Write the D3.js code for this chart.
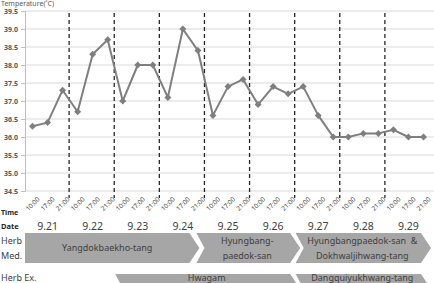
<!DOCTYPE html>
<html>
<head>
<meta charset="utf-8">
<script src="https://cdn.jsdelivr.net/npm/d3@7"></script>
<style>
  body { margin: 0; background: #fff; }
  svg { display: block; font-family: "Noto Sans", "Open Sans", sans-serif; }
</style>
</head>
<body>
<div id="chart"></div>
<script>
// chart data
const dates = ["9.21", "9.22", "9.23", "9.24", "9.25", "9.26", "9.27", "9.28", "9.29"];
const times = ["10:00", "17:00", "21:00"];
const temps = [
  36.3, 36.4, 37.3,
  36.7, 38.3, 38.7,
  37.0, 38.0, 38.0,
  37.1, 39.0, 38.4,
  36.6, 37.4, 37.6,
  36.9, 37.4, 37.2,
  37.4, 36.6, 36.0,
  36.0, 36.1, 36.1,
  36.2, 36.0, 36.0
];
const yTicks = [34.5, 35.0, 35.5, 36.0, 36.5, 37.0, 37.5, 38.0, 38.5, 39.0, 39.5];

// treatment periods, in measurement slots
const herbMed = [
  { label: ["Yangdokbaekho-tang"], start: 0, end: 11.6 },
  { label: ["Hyungbang-", "paedok-san"], start: 11.4, end: 18.3 },
  { label: ["Hyungbangpaedok-san \u00a0&", "Dokhwaljihwang-tang"], start: 18, end: 27 }
];
const herbEx = [
  { label: ["Hwagam"], start: 6, end: 18.3 },
  { label: ["Dangquiyukhwang-tang"], start: 18, end: 27 }
];

const width = 434, height = 283;
const plot = { left: 25, right: 431, top: 11, bottom: 191 };

const svg = d3.select("#chart").append("svg")
  .attr("width", width)
  .attr("height", height);

// slots: one per (date, time)
const slots = temps.map((t, i) => ({ i, date: dates[Math.floor(i / 3)], time: times[i % 3], value: t }));

const x = d3.scaleBand()
  .domain(slots.map(d => d.i))
  .range([plot.left, plot.right])
  .padding(0);
const slotW = x.bandwidth();
const xPos = s => plot.left + s * slotW; // slot units -> pixels

const y = d3.scaleLinear()
  .domain([34.5, 39.5])
  .range([plot.bottom, plot.top]);

// title
svg.append("text")
  .attr("x", 1).attr("y", 5.5)
  .attr("font-size", 7)
  .attr("fill", "#595959")
  .text("Temperature(˚C)");

// gridlines
svg.append("g")
  .selectAll("line")
  .data(yTicks)
  .join("line")
  .attr("x1", plot.left).attr("x2", width)
  .attr("y1", d => y(d)).attr("y2", d => y(d))
  .attr("stroke", "#d9d9d9")
  .attr("stroke-width", 1);

// y axis
const yAxis = svg.append("g")
  .attr("transform", `translate(${plot.left},0)`)
  .call(d3.axisLeft(y).tickValues(yTicks).tickFormat(d3.format(".1f")).tickSize(4).tickPadding(3));
yAxis.select(".domain").attr("stroke", "#bfbfbf");
yAxis.selectAll(".tick line").attr("stroke", "#bfbfbf");
yAxis.selectAll(".tick text")
  .attr("font-size", 7)
  .attr("font-weight", "bold")
  .attr("fill", "#595959")
  .attr("font-family", "\"Noto Sans\", sans-serif");

// day separators
const seps = d3.range(1, dates.length).map(k => k * 3);
svg.append("g")
  .selectAll("line")
  .data(seps)
  .join("line")
  .attr("x1", d => x(d) - 1).attr("x2", d => x(d) - 1)
  .attr("y1", plot.top + 2).attr("y2", plot.bottom + 7)
  .attr("stroke", "#262626")
  .attr("stroke-width", 1.3)
  .attr("stroke-dasharray", "4,3");

// temperature line
const cx = d => x(d.i) + slotW / 2;
svg.append("path")
  .datum(slots)
  .attr("fill", "none")
  .attr("stroke", "#7f7f7f")
  .attr("stroke-width", 2)
  .attr("stroke-linejoin", "round")
  .attr("d", d3.line().x(cx).y(d => y(d.value)));

svg.append("g")
  .selectAll("path")
  .data(slots)
  .join("path")
  .attr("transform", d => `translate(${cx(d)},${y(d.value)})`)
  .attr("d", "M0,-3.5L3.5,0L0,3.5L-3.5,0Z")
  .attr("fill", "#7f7f7f");

// time labels, rotated
svg.append("text")
  .attr("x", 1).attr("y", 215)
  .attr("font-size", 7).attr("font-weight", "bold")
  .attr("fill", "#262626")
  .text("Time");

svg.append("g")
  .selectAll("text")
  .data(slots)
  .join("text")
  .attr("transform", d => `translate(${cx(d) + 6},${plot.bottom + 7}) rotate(-45)`)
  .attr("text-anchor", "end")
  .attr("dy", "0.35em")
  .attr("font-size", 6.5)
  .attr("fill", "#404040")
  .text(d => d.time);

// date labels
svg.append("text")
  .attr("x", 1).attr("y", 229)
  .attr("font-size", 7.5).attr("font-weight", "bold")
  .attr("fill", "#262626")
  .text("Date");

svg.append("g")
  .selectAll("text")
  .data(dates)
  .join("text")
  .attr("x", (d, k) => x(k * 3) + slotW * 1.5)
  .attr("y", 230)
  .attr("text-anchor", "middle")
  .attr("font-size", 10.5)
  .attr("fill", "#404040")
  .text(d => d);

// arrow shapes for treatment periods
const tip = 10, notch = 8;
function arrowPath(d, top, h) {
  const x0 = xPos(d.start), x1 = xPos(d.end);
  const mid = top + h / 2, bot = top + h;
  const left = d.start === 0
    ? `L${x0},${bot}L${x0},${top}`
    : `L${x0},${bot}L${x0 + notch},${mid}L${x0},${top}`;
  return `M${x0},${top}L${x1 - tip},${top}L${x1},${mid}L${x1 - tip},${bot}` + left + "Z";
}

// textMid: vertical centre of the label block
function drawRow(data, top, h, textMid) {
  const g = svg.append("g");
  g.selectAll("path")
    .data(data)
    .join("path")
    .attr("d", d => arrowPath(d, top, h))
    .attr("fill", "#a6a6a6");
  g.selectAll("text")
    .data(data)
    .join("text")
    .attr("x", d => (xPos(d.start) + xPos(d.end) - tip + (d.start === 0 ? 0 : notch)) / 2)
    .attr("y", d => textMid - (d.label.length - 1) * 7.5)
    .attr("text-anchor", "middle")
    .attr("font-size", 9)
    .attr("fill", "#404040")
    .selectAll("tspan")
    .data(d => d.label)
    .join("tspan")
    .attr("x", function () { return d3.select(this.parentNode).attr("x"); })
    .attr("dy", (d, k) => k === 0 ? "0.35em" : 15)
    .text(d => d);
}

drawRow(herbMed, 233, 30, 248);
drawRow(herbEx, 274, 30, 277.5);

// row labels
svg.append("text")
  .attr("x", 1).attr("y", 244)
  .attr("font-size", 9).attr("fill", "#404040")
  .text("Herb");
svg.append("text")
  .attr("x", 1).attr("y", 259)
  .attr("font-size", 9).attr("fill", "#404040")
  .text("Med.");
svg.append("text")
  .attr("x", 1).attr("y", 280.5)
  .attr("font-size", 9).attr("fill", "#404040")
  .text("Herb Ex.");
</script>
</body>
</html>
